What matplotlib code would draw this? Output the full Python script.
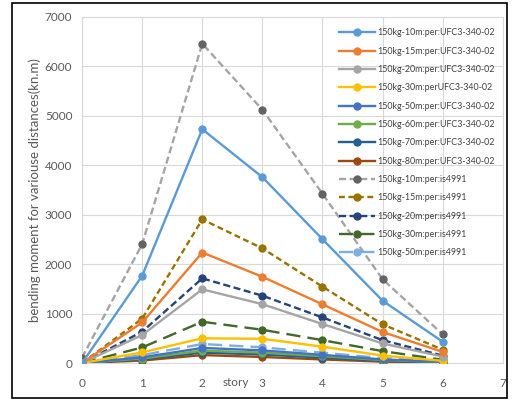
import matplotlib
matplotlib.use('Agg')
from matplotlib import pyplot as plt
from matplotlib.patches import Rectangle

stories = [0, 1, 2, 3, 4, 5, 6]

labels = [
    '150kg-10m:per:UFC3-340-02',
    '150kg-15m:per:UFC3-340-02',
    '150kg-20m:per:UFC3-340-02',
    '150kg-30m:perUFC3-340-02',
    '150kg-50m:per:UFC3-340-02',
    '150kg-60m:per:UFC3-340-02',
    '150kg-70m:per:UFC3-340-02',
    '150kg-80m:per:UFC3-340-02',
    '150kg-10m:per:is4991',
    '150kg-15m:per:is4991',
    '150kg-20m:per:is4991',
    '150kg-30m:per:is4991',
    '150kg-50m:per:is4991',
]

ufc_10 = [0, 1765, 4730, 3760, 2505, 1260, 430]
ufc_15 = [0, 820, 2235, 1745, 1187, 627, 225]
ufc_20 = [0, 566, 1490, 1190, 789, 395, 130]
ufc_30 = [0, 215, 500, 490, 330, 150, 45]
ufc_50 = [0, 115, 305, 255, 165, 72, 25]
ufc_60 = [0, 90, 250, 210, 138, 60, 20]
ufc_70 = [0, 75, 210, 172, 110, 45, 15]
ufc_80 = [0, 50, 160, 122, 72, 28, 8]
is_10 = [110, 2405, 6460, 5125, 3425, 1695, 580]
is_15 = [0, 897, 2905, 2320, 1545, 783, 270]
is_20 = [0, 634, 1712, 1362, 922, 462, 150]
is_30 = [0, 315, 835, 672, 462, 240, 65]
is_50 = [0, 160, 385, 317, 208, 100, 30]

series = [ufc_10, ufc_15, ufc_20, ufc_30, ufc_50, ufc_60, ufc_70, ufc_80,
          is_10, is_15, is_20, is_30, is_50]

colors = ['#5B9BD5', '#ED7D31', '#A5A5A5', '#FFC000', '#4472C4', '#70AD47',
          '#255E91', '#9E480E', '#A5A5A5', '#997300', '#264478', '#43682B',
          '#7CAFDD']
mcolors = colors[:8] + ['#636363'] + colors[9:]
styles = ['-'] * 8 + [(0, (3, 1.5)), (0, (2.5, 1.5)), (0, (3, 1.5)),
                      (0, (6, 3)), (0, (6, 3))]

plt.rcParams['font.family'] = ['Lato', 'DejaVu Sans']

fig = plt.figure(figsize=(5.13, 4.0), dpi=100)
ax = fig.add_axes([0.16, 0.0925, 0.82, 0.865])

for i in range(len(series)):
    ax.plot(stories, series[i], color=colors[i], linestyle=styles[i],
            linewidth=1.7, marker='o', markersize=5,
            markerfacecolor=mcolors[i], markeredgecolor=mcolors[i],
            label=labels[i], zorder=3 + (len(series) - i) * 0.01)

ax.set_xlim(0, 7)
ax.set_ylim(0, 7000)
ax.set_xticks(range(0, 8))
ax.set_yticks(range(0, 7001, 1000))
ax.grid(True, color='#D9D9D9', linewidth=0.8)
ax.set_axisbelow(True)
for s in ax.spines.values():
    s.set_color('#D9D9D9')
    s.set_linewidth(0.8)
ax.tick_params(axis='y', length=0, labelsize=8.5, colors='#595959', pad=7)
ax.tick_params(axis='x', length=0, labelsize=8.5, colors='#595959', pad=11)
ax.set_ylabel('bending moment for variouse distances(kn.m)', fontsize=9.5,
              color='#595959', labelpad=3)
ax.text(2.56, -0.055, 'story', transform=ax.get_xaxis_transform(),
        ha='center', va='center', fontsize=8.5, color='#595959')

leg = ax.legend(loc='upper right', bbox_to_anchor=(1.0, 0.99), frameon=False,
                fontsize=6.4, handlelength=4.0, handletextpad=0.3,
                labelspacing=1.05, labelcolor='#404040')

fig.patches.append(Rectangle((12 / 513, 2 / 400), 495 / 513, 395 / 400,
                             transform=fig.transFigure, fill=False,
                             edgecolor='black', linewidth=1.2))

fig.savefig('out.png', dpi=100)
